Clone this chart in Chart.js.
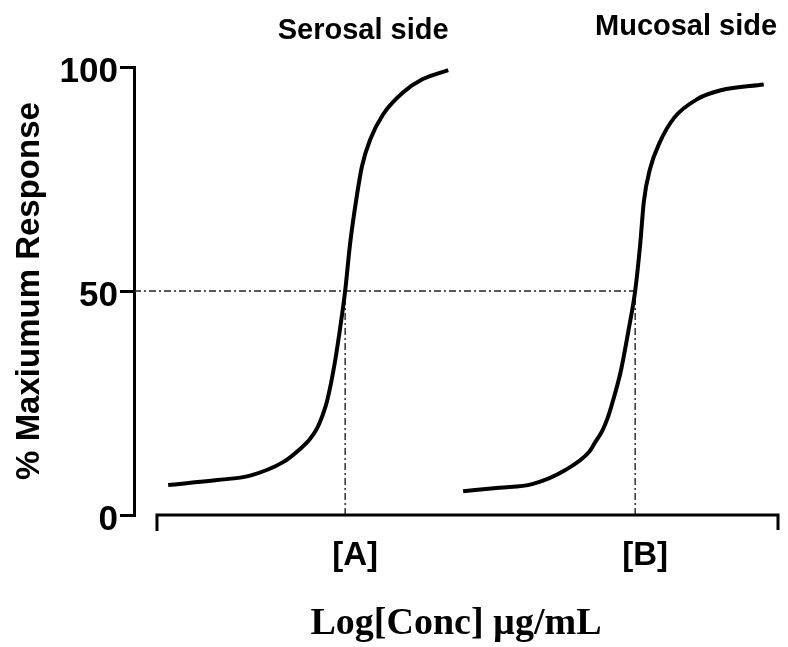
<!DOCTYPE html>
<html lang="en">
<head>
<meta charset="UTF-8">
<title>Dose response</title>
<script src="https://cdn.jsdelivr.net/npm/chart.js@4.4.0/dist/chart.umd.min.js"></script>
<style>
  body { margin: 0; background: #fff; }
  #wrap { width: 788px; height: 647px; }
</style>
</head>
<body>
<div id="wrap"><canvas id="chart"></canvas></div>
<script>
// log[conc] in axis units (0..10) and % maximum response
const serosalX = [0.18, 0.97, 1.50, 2.03, 2.30, 2.46, 2.58, 2.66, 2.74, 2.86, 2.95, 3.03, 3.11, 3.22, 3.30, 3.43, 3.64, 3.96, 4.28, 4.69];
const serosalY = [6.7, 7.8, 8.8, 11.8, 14.7, 16.9, 19.4, 22.0, 25.5, 33.7, 41.8, 50, 60.6, 71.4, 77.8, 83.7, 89.4, 94.3, 97.3, 99.3];
const mucosalX = [4.93, 5.51, 6.04, 6.57, 6.96, 7.05, 7.17, 7.25, 7.33, 7.47, 7.59, 7.70, 7.78, 7.84, 7.94, 8.09, 8.33, 8.71, 9.08, 9.77];
const mucosalY = [5.3, 6.1, 6.9, 10.0, 14.1, 16.1, 18.8, 21.4, 24.9, 32.2, 41.0, 50, 60.3, 70.0, 77.3, 83.0, 88.7, 92.9, 94.8, 96.1];

const ec50X = [3.03, 7.70];          // [A], [B]
const xTickLabels = ['[A]', '[B]'];
const yTicks = [0, 50, 100];
const halfResponse = 50;
const xMin = -0.37, xMax = 10;
const sideLabels = ['Serosal side', 'Mucosal side'];
const sideLabelX = [3.32, 8.52];

const toPoints = (xs, ys) => xs.map((v, i) => ({ x: v, y: ys[i] }));

const sans = '"Liberation Sans", Arial, sans-serif';

const dashed = {
  borderColor: '#222',
  borderWidth: 1.4,
  borderDash: [7, 3, 2, 3],
  pointRadius: 0,
  tension: 0,
  clip: false
};

// draws the detached x axis line and the two panel labels
const decorations = {
  id: 'decorations',
  afterDatasetsDraw(chart) {
    const { ctx, scales: { x, y } } = chart;
    const left = x.getPixelForValue(0);
    const right = x.getPixelForValue(10);
    const base = y.getPixelForValue(0);
    ctx.save();
    ctx.strokeStyle = '#000';
    ctx.lineWidth = 3;
    ctx.beginPath();
    ctx.moveTo(left, base + 16);
    ctx.lineTo(left, base);
    ctx.lineTo(right, base);
    ctx.lineTo(right, base + 15);
    ctx.stroke();

    ctx.fillStyle = '#000';
    ctx.font = 'bold 29px ' + sans;
    ctx.textAlign = 'center';
    ctx.textBaseline = 'middle';
    ctx.fillText(sideLabels[0], x.getPixelForValue(sideLabelX[0]), chart.chartArea.top - 36);
    ctx.fillText(sideLabels[1], x.getPixelForValue(sideLabelX[1]), chart.chartArea.top - 40);
    ctx.restore();
  }
};

new Chart(document.getElementById('chart'), {
  type: 'line',
  data: {
    datasets: [
      {
        data: toPoints(serosalX, serosalY),
        borderColor: '#000',
        borderWidth: 4,
        pointRadius: 0,
        cubicInterpolationMode: 'monotone'
      },
      {
        data: toPoints(mucosalX, mucosalY),
        borderColor: '#000',
        borderWidth: 4,
        pointRadius: 0,
        cubicInterpolationMode: 'monotone'
      },
      { ...dashed, data: [{ x: xMin, y: halfResponse }, { x: ec50X[1], y: halfResponse }] },
      { ...dashed, data: [{ x: ec50X[0], y: 0 }, { x: ec50X[0], y: halfResponse }] },
      { ...dashed, data: [{ x: ec50X[1], y: 0 }, { x: ec50X[1], y: halfResponse }] }
    ]
  },
  options: {
    responsive: true,
    maintainAspectRatio: false,
    animation: false,
    layout: { padding: { top: 67, right: 10, bottom: 0, left: 10 } },
    plugins: {
      legend: { display: false },
      tooltip: { enabled: false }
    },
    scales: {
      x: {
        type: 'linear',
        min: xMin,
        max: xMax,
        grid: { display: false, drawTicks: false },
        border: { display: false },
        afterBuildTicks: (s) => { s.ticks = ec50X.map(v => ({ value: v })); },
        afterFit: (s) => { s.height = 132; },
        ticks: {
          autoSkip: false,
          maxRotation: 0,
          padding: 21,
          labelOffset: 10,
          color: '#000',
          font: { family: sans, size: 33, weight: 'bold' },
          callback: (v, i) => xTickLabels[i]
        },
        title: {
          display: true,
          text: 'Log[Conc] µg/mL',
          color: '#000',
          font: { family: '"Liberation Serif", "Times New Roman", serif', size: 38, weight: 'bold' },
          padding: 0
        }
      },
      y: {
        min: 0,
        max: 100,
        afterBuildTicks: (s) => { s.ticks = yTicks.map(v => ({ value: v })); },
        afterFit: (s) => { s.width = 124; },
        border: { display: true, color: '#000', width: 3 },
        grid: { drawOnChartArea: false, drawTicks: true, tickLength: 14, color: '#000', lineWidth: 3 },
        ticks: {
          padding: 2,
          labelOffset: 5,
          color: '#000',
          font: { family: sans, size: 35, weight: 'bold' }
        },
        title: {
          display: true,
          text: '% Maxiumum Response',
          color: '#000',
          font: { family: sans, size: 33, weight: 'bold' },
          padding: 0
        }
      }
    }
  },
  plugins: [decorations]
});
</script>
</body>
</html>
